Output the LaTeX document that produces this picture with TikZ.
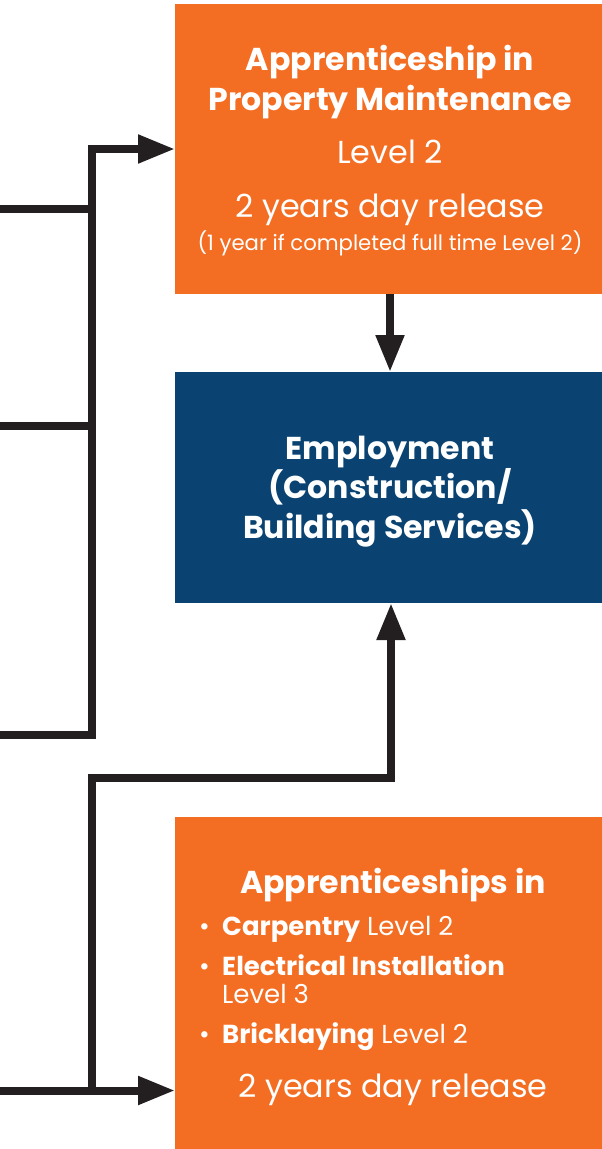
\documentclass[tikz,border=0pt]{standalone}
\usepackage{fontspec}
\setmainfont{Poppins}
\usetikzlibrary{arrows.meta}
\definecolor{orangebox}{HTML}{F36E23}
\definecolor{bluebox}{HTML}{0A4371}
\definecolor{linecol}{HTML}{231F20}
\tikzset{
  box/.style={draw=none, minimum width=430pt, inner sep=0pt, outer sep=0pt},
  obox/.style={box, fill=orangebox},
  bbox/.style={box, fill=bluebox},
  conn/.style={draw=linecol, line width=8pt, line join=miter},
  arr/.style={conn, -{Triangle[length=37pt,width=27pt]}},
  txt/.style={text=white, anchor=base, inner sep=0pt},
  ttl/.style={txt, font=\fontsize{31.6}{36}\selectfont\bfseries},
  reg/.style={txt, font=\fontsize{31.8}{36}\selectfont},
  sml/.style={txt, font=\fontsize{21.2}{24}\selectfont},
  itm/.style={text=white, anchor=base west, inner sep=0pt, font=\fontsize{26}{30}\selectfont},
}
\begin{document}
\begin{tikzpicture}[x=1pt,y=-1pt]
\useasboundingbox (0,0) rectangle (602,1149);
% boxes
\node[obox, minimum height=290pt] (pm) at (390,149) {};
\node[bbox, minimum height=231pt] (emp) at (390,487.5) {};
\node[obox, minimum height=346pt] (app) at (390,990) {};
% box 1 text
\node[ttl] (pm1) at (390,70) {Apprenticeship in};
\node[ttl] (pm2) at (390,110) {Property Maintenance};
\node[reg] (pm3) at (390,163) {Level 2};
\node[reg] (pm4) at (390,217) {2 years day release};
\node[sml] (pm5) at (390,250) {(1 year if completed full time Level 2)};
% employment text
\node[ttl] (e1) at (390,459) {Employment};
\node[ttl] (e2) at (390,498) {(Construction/};
\node[ttl] (e3) at (390,538) {Building Services)};
% box 3 text
\node[ttl] (a1) at (393,893) {Apprenticeships in};
\node[itm] (b1) at (199,935) {•};
\node[itm] (a2) at (222,935) {\textbf{Carpentry} Level 2};
\node[itm] (b2) at (199,975) {•};
\node[itm] (a3) at (222,975) {\textbf{Electrical Installation}};
\node[itm] (a4) at (222,1003) {Level 3};
\node[itm] (b3) at (199,1043) {•};
\node[itm] (a5) at (222,1043) {\textbf{Bricklaying} Level 2};
\node[reg] (a6) at (393,1097) {2 years day release};
% connector coordinates
\coordinate (l1) at (0,208.5);
\coordinate (l2) at (0,425.5);
\coordinate (l3) at (0,734.5);
\coordinate (l4) at (0,1090.5);
\coordinate (j1) at (92,208.5);
\coordinate (j2) at (92,425.5);
\coordinate (top) at (92,149);
\coordinate (bot) at (92,734.5);
\coordinate (j4) at (92,1090.5);
\coordinate (m1) at (92,777.5);
\coordinate (m2) at (391,777.5);
\coordinate (in3) at (175,1090.5);
% connectors
\draw[conn] (l1) -- (j1);
\draw[conn] (l2) -- (j2);
\draw[arr] (l3) -- (bot) -- (top) -- (pm.west);
\draw[arr] (l4) -- (in3);
\draw[arr] (j4) -- (m1) -- (m2) -- (m2 |- emp.south);
\draw[arr] (pm.south) -- (emp.north);
\end{tikzpicture}
\end{document}
